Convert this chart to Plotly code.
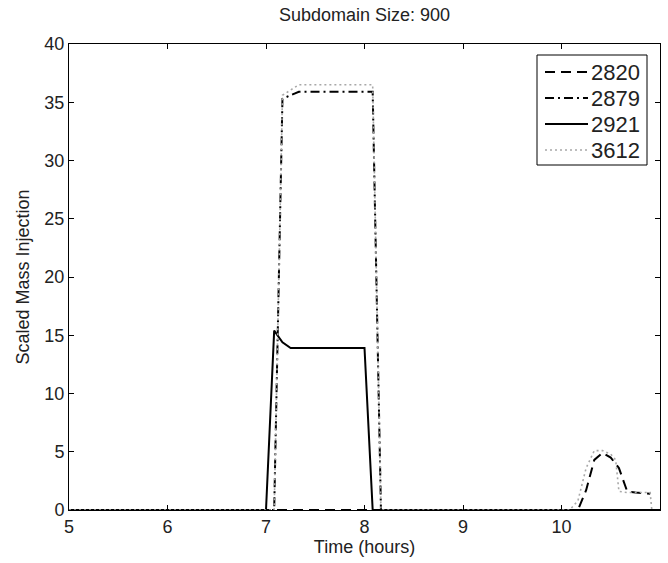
import plotly.graph_objects as go

# ---- data ----
t_2820 = [5.0, 10.167, 10.25, 10.333, 10.417, 10.5, 10.583, 10.667, 10.75, 10.833, 10.9]
v_2820 = [0.0, 0.0, 1.7, 4.3, 4.9, 4.5, 3.6, 1.6, 1.5, 1.45, 1.4]

t_2879 = [5.0, 7.083, 7.167, 7.333, 7.5, 7.75, 8.0, 8.083, 8.167, 11.0]
v_2879 = [0.0, 0.0, 35.3, 35.9, 35.9, 35.9, 35.9, 35.9, 0.0, 0.0]

t_2921 = [5.0, 7.0, 7.083, 7.167, 7.25, 7.5, 7.75, 8.0, 8.083, 11.0]
v_2921 = [0.0, 0.0, 15.4, 14.4, 13.9, 13.9, 13.9, 13.9, 0.0, 0.0]

t_3612 = [5.0, 7.083, 7.167, 7.333, 7.5, 7.75, 8.0, 8.083, 8.167,
          10.083, 10.167, 10.25, 10.333, 10.417, 10.5, 10.55, 10.583, 10.667, 10.75, 10.833, 10.9, 10.917]
v_3612 = [0.0, 0.0, 35.6, 36.5, 36.5, 36.5, 36.5, 36.5, 0.0,
          0.0, 0.8, 3.6, 5.1, 5.1, 4.8, 4.3, 1.6, 1.5, 1.5, 1.5, 1.5, 0.0]

series_names = ["2820", "2879", "2921", "3612"]
title_text = "Subdomain Size: 900"
x_label = "Time (hours)"
y_label = "Scaled Mass Injection"

FONT = "Liberation Sans, Arial, Helvetica, sans-serif"
styles = [
    dict(color="black", width=2, dash="10px,6px"),
    dict(color="black", width=2, dash="9px,4px,2px,4px"),
    dict(color="black", width=2, dash="solid"),
    dict(color="#a8a8a8", width=1.6, dash="2px,3px"),
]

fig = go.Figure()
for name, t, v, st in zip(series_names, [t_2820, t_2879, t_2921, t_3612],
                          [v_2820, v_2879, v_2921, v_3612], styles):
    fig.add_trace(go.Scatter(x=t, y=v, name=name, mode="lines", line=st,
                             showlegend=False))

# plot area in pixels (for the hand-drawn legend box)
L, R, T, B = 69, 660, 44, 510
def px(xp):
    return (xp - L) / (R - L)
def py(yp):
    return (B - yp) / (B - T)

shapes = [dict(type="rect", xref="paper", yref="paper",
               x0=px(537), x1=px(647), y0=py(55), y1=py(165),
               line=dict(color="black", width=1), fillcolor="white", layer="above")]
annotations = []
row0, step = 72, 26
for i, (name, st) in enumerate(zip(series_names, styles)):
    yc = row0 + i * step
    shapes.append(dict(type="line", xref="paper", yref="paper",
                       x0=px(545), x1=px(588), y0=py(yc), y1=py(yc),
                       line=st, layer="above"))
    annotations.append(dict(text=name, xref="paper", yref="paper",
                            x=px(589), y=py(yc), xanchor="left", yanchor="middle",
                            showarrow=False,
                            font=dict(size=22, family=FONT, color="#222")))

fig.update_layout(
    width=668, height=563,
    margin=dict(l=L, r=668 - R, t=T, b=563 - B),
    paper_bgcolor="white", plot_bgcolor="white",
    font=dict(family=FONT, size=18, color="#222"),
    title=dict(text=title_text, x=0.5, xref="paper", xanchor="center",
               y=1 - 15 / 563, yref="container", yanchor="middle",
               font=dict(size=18, family=FONT, color="#222")),
    showlegend=False,
    shapes=shapes,
    annotations=annotations,
)
fig.update_xaxes(range=[5, 11], dtick=1, tick0=5, showline=True, linecolor="black",
                 linewidth=1, mirror="ticks", ticks="inside", ticklen=5,
                 tickcolor="black", showgrid=False, zeroline=False,
                 title=dict(text=x_label, standoff=4, font=dict(size=18)))
fig.update_yaxes(range=[0, 40], dtick=5, tick0=0, showline=True, linecolor="black",
                 linewidth=1, mirror="ticks", ticks="inside", ticklen=5,
                 tickcolor="black", showgrid=False, zeroline=False,
                 title=dict(text=y_label, standoff=10, font=dict(size=18)))

fig.write_html("out.html")
